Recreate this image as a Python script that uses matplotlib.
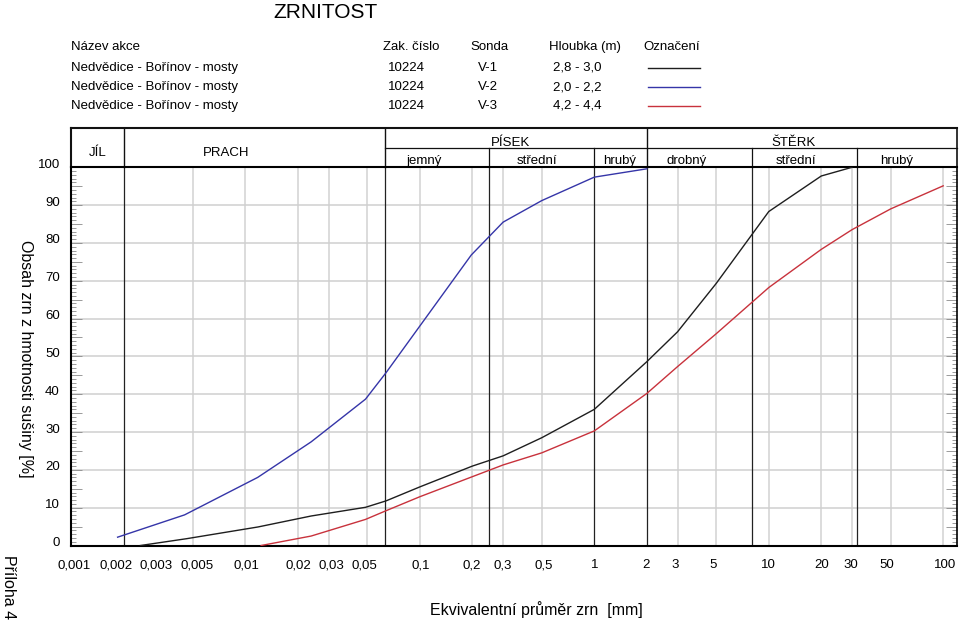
import numpy as np
import matplotlib.pyplot as plt
import matplotlib.transforms as mtransforms
from matplotlib.ticker import FixedLocator, MultipleLocator, NullLocator, FuncFormatter
from matplotlib.lines import Line2D

plt.rcParams['font.family'] = ['Liberation Sans', 'DejaVu Sans']
plt.rcParams['font.size'] = 9.5

# zrnitost - prumer zrn [mm] a propad [%]
d_v1 = [0.0025, 0.0046, 0.0118, 0.0238, 0.0488, 0.064, 0.1, 0.2, 0.3, 0.5, 1, 2, 3, 5, 10, 20, 30]
p_v1 = [0.0, 1.8, 4.9, 7.8, 10.1, 11.8, 15.5, 21.0, 23.7, 28.5, 36.0, 48.6, 56.5, 69.3, 88.3, 97.7, 100.0]
d_v2 = [0.00185, 0.00448, 0.01175, 0.0238, 0.0488, 0.064, 0.197, 0.3, 0.5, 1, 2]
p_v2 = [2.2, 8.1, 18.0, 27.4, 38.7, 45.7, 76.8, 85.5, 91.2, 97.4, 99.6]
d_v3 = [0.0123, 0.0238, 0.0488, 0.064, 0.1, 0.2, 0.3, 0.5, 1, 2, 3, 5, 10, 20, 30, 50, 100]
p_v3 = [0.0, 2.5, 6.9, 9.2, 12.9, 18.2, 21.3, 24.5, 30.3, 40.2, 47.3, 56.0, 68.2, 78.3, 83.5, 89.0, 95.1]

# tabulka vzorku
nazev = ['Nedvědice - Bořínov - mosty'] * 3
zak_cislo = ['10224'] * 3
sonda = ['V-1', 'V-2', 'V-3']
hloubka = ['2,8 - 3,0', '2,0 - 2,2', '4,2 - 4,4']
barvy = ['#1e1e1e', '#3535a8', '#c8323c']

xtick_vals = [0.001, 0.002, 0.003, 0.005, 0.01, 0.02, 0.03, 0.05, 0.1, 0.2, 0.3, 0.5,
              1, 2, 3, 5, 10, 20, 30, 50, 100]
xtick_labels = ['0,001', '0,002', '0,003', '0,005', '0,01', '0,02', '0,03', '0,05', '0,1',
                '0,2', '0,3', '0,5', '1', '2', '3', '5', '10', '20', '30', '50', '100']
# posun popisku v px (jako v originale)
xtick_dx = [3, -7, 2, 4, 1, 0, 3, -3, 1, -1, 0, 2, 0, -1, -2, -3, 0, 0, -1, -4, 2]
grid_x = [0.005, 0.01, 0.02, 0.03, 0.05, 0.1, 0.2, 0.3, 0.5, 3, 5, 10, 20, 30, 50, 100]
grid_y = [10, 20, 30, 40, 50, 60, 70, 80, 90]
hranice = [0.002, 0.063, 0.25, 1, 2, 8, 32]

# hlavicka frakci
frakce = ['JÍL', 'PRACH', 'PÍSEK', 'ŠTĚRK']
frakce_x = [0.00143, 0.0078, 0.33, 13.9]
frakce_y = [1.038, 1.038, 1.064, 1.064]
podfrakce = ['jemný', 'střední', 'hrubý', 'drobný', 'střední', 'hrubý']
podfrakce_x = [0.105, 0.467, 1.40, 3.36, 14.3, 54.2]

xmin, xmax = 0.001, 120

fig = plt.figure(figsize=(9.6, 6.21), dpi=100)
ax = fig.add_axes([71 / 960, 1 - 545.5 / 621, 886 / 960, 378.2 / 621])

for v in grid_x:
    ax.axvline(v, color='#d2d2d2', lw=1.1, zorder=1)
for v in grid_y:
    ax.axhline(v, color='#cfcfcf', lw=1.1, zorder=1)
for v in hranice:
    ax.axvline(v, color='#222222', lw=0.9, zorder=2)

ax.plot(d_v1, p_v1, color=barvy[0], lw=1.0, zorder=3)
ax.plot(d_v2, p_v2, color=barvy[1], lw=1.0, zorder=3)
ax.plot(d_v3, p_v3, color=barvy[2], lw=1.0, zorder=3)

ax.set_xscale('log')
ax.set_xlim(xmin, xmax)
ax.set_ylim(0, 100)
ax.xaxis.set_major_locator(FixedLocator(xtick_vals))
ax.xaxis.set_minor_locator(NullLocator())
ax.set_xticklabels(xtick_labels)
ax.yaxis.set_major_locator(MultipleLocator(5))
ax.yaxis.set_minor_locator(MultipleLocator(1))
ax.yaxis.set_major_formatter(FuncFormatter(lambda v, p: '%d' % v if v % 10 == 0 else ''))
ax.tick_params(axis='x', length=0, pad=10, labelsize=9.5)
ax.tick_params(axis='y', which='both', direction='in', left=True, right=True,
               color='#8a8a8a', width=0.6, labelsize=9.5, pad=8)
ax.tick_params(axis='y', which='major', length=8)
ax.tick_params(axis='y', which='minor', length=3.6)

for s in ['left', 'bottom', 'top']:
    ax.spines[s].set_linewidth(1.5)
ax.spines['right'].set_linewidth(1.2)

# popisky y trochu nad carou
off = mtransforms.ScaledTranslation(0, 4 / 100, fig.dpi_scale_trans)
for lab in ax.get_yticklabels():
    lab.set_transform(lab.get_transform() + off)
for lab, dx in zip(ax.get_xticklabels(), xtick_dx):
    lab.set_transform(lab.get_transform() + mtransforms.ScaledTranslation(dx / 100, 0, fig.dpi_scale_trans))

ax.set_xlabel('Ekvivalentní průměr zrn  [mm]', fontsize=11.5, va='center')
ax.xaxis.set_label_coords((536 - 71) / 886, -(610 - 545.5) / 378.2)
ax.set_ylabel('Obsah zrn z hmotnosti sušiny [%]', fontsize=11.5, rotation=270, va='center')
ax.yaxis.set_label_coords((25 - 71) / 886, (545.5 - 359) / 378.2)

# hlavicka nad grafem
tr = mtransforms.blended_transform_factory(ax.transData, ax.transAxes)
htop, hmid = 1.104, 1.051
kw = dict(transform=tr, clip_on=False, color='#111111')
ax.plot([xmin, xmax], [htop, htop], lw=1.5, **kw)
ax.plot([xmin, xmin], [1, htop], lw=1.5, **kw)
ax.plot([xmax, xmax], [1, htop], lw=1.2, **kw)
for v in [0.002, 0.063, 2]:
    ax.plot([v, v], [1, htop], lw=1.0, **kw)
ax.plot([0.063, xmax], [hmid, hmid], lw=0.9, **kw)
for v in [0.25, 1, 8, 32]:
    ax.plot([v, v], [1, hmid], lw=0.9, **kw)
for t, x, y in zip(frakce, frakce_x, frakce_y):
    ax.text(x, y, t, transform=tr, ha='center', va='center', fontsize=9.5)
for t, x in zip(podfrakce, podfrakce_x):
    ax.text(x, 1.017, t, transform=tr, ha='center', va='center', fontsize=9.5)

# titulek a tabulka
def fx(px):
    return px / 960

def fy(py):
    return 1 - py / 621

fig.text(fx(326), fy(12), 'ZRNITOST', fontsize=15, ha='center', va='center')
fig.text(fx(71), fy(47), 'Název akce', ha='left', va='center')
fig.text(fx(411), fy(47), 'Zak. číslo', ha='center', va='center')
fig.text(fx(489), fy(47), 'Sonda', ha='center', va='center')
fig.text(fx(585), fy(47), 'Hloubka (m)', ha='center', va='center')
fig.text(fx(672), fy(47), 'Označení', ha='center', va='center')
for i in range(3):
    yy = fy(68 + 19 * i)
    fig.text(fx(71), yy, nazev[i], ha='left', va='center')
    fig.text(fx(406), yy, zak_cislo[i], ha='center', va='center')
    fig.text(fx(478), yy, sonda[i], ha='left', va='center')
    fig.text(fx(577), yy, hloubka[i], ha='center', va='center')
    fig.add_artist(Line2D([fx(648), fx(700)], [yy, yy], color=barvy[i], lw=1.0))

fig.text(fx(8), fy(587), 'Příloha 4', fontsize=11.5, rotation=270, ha='center', va='center')

fig.savefig('out.png', dpi=100)
